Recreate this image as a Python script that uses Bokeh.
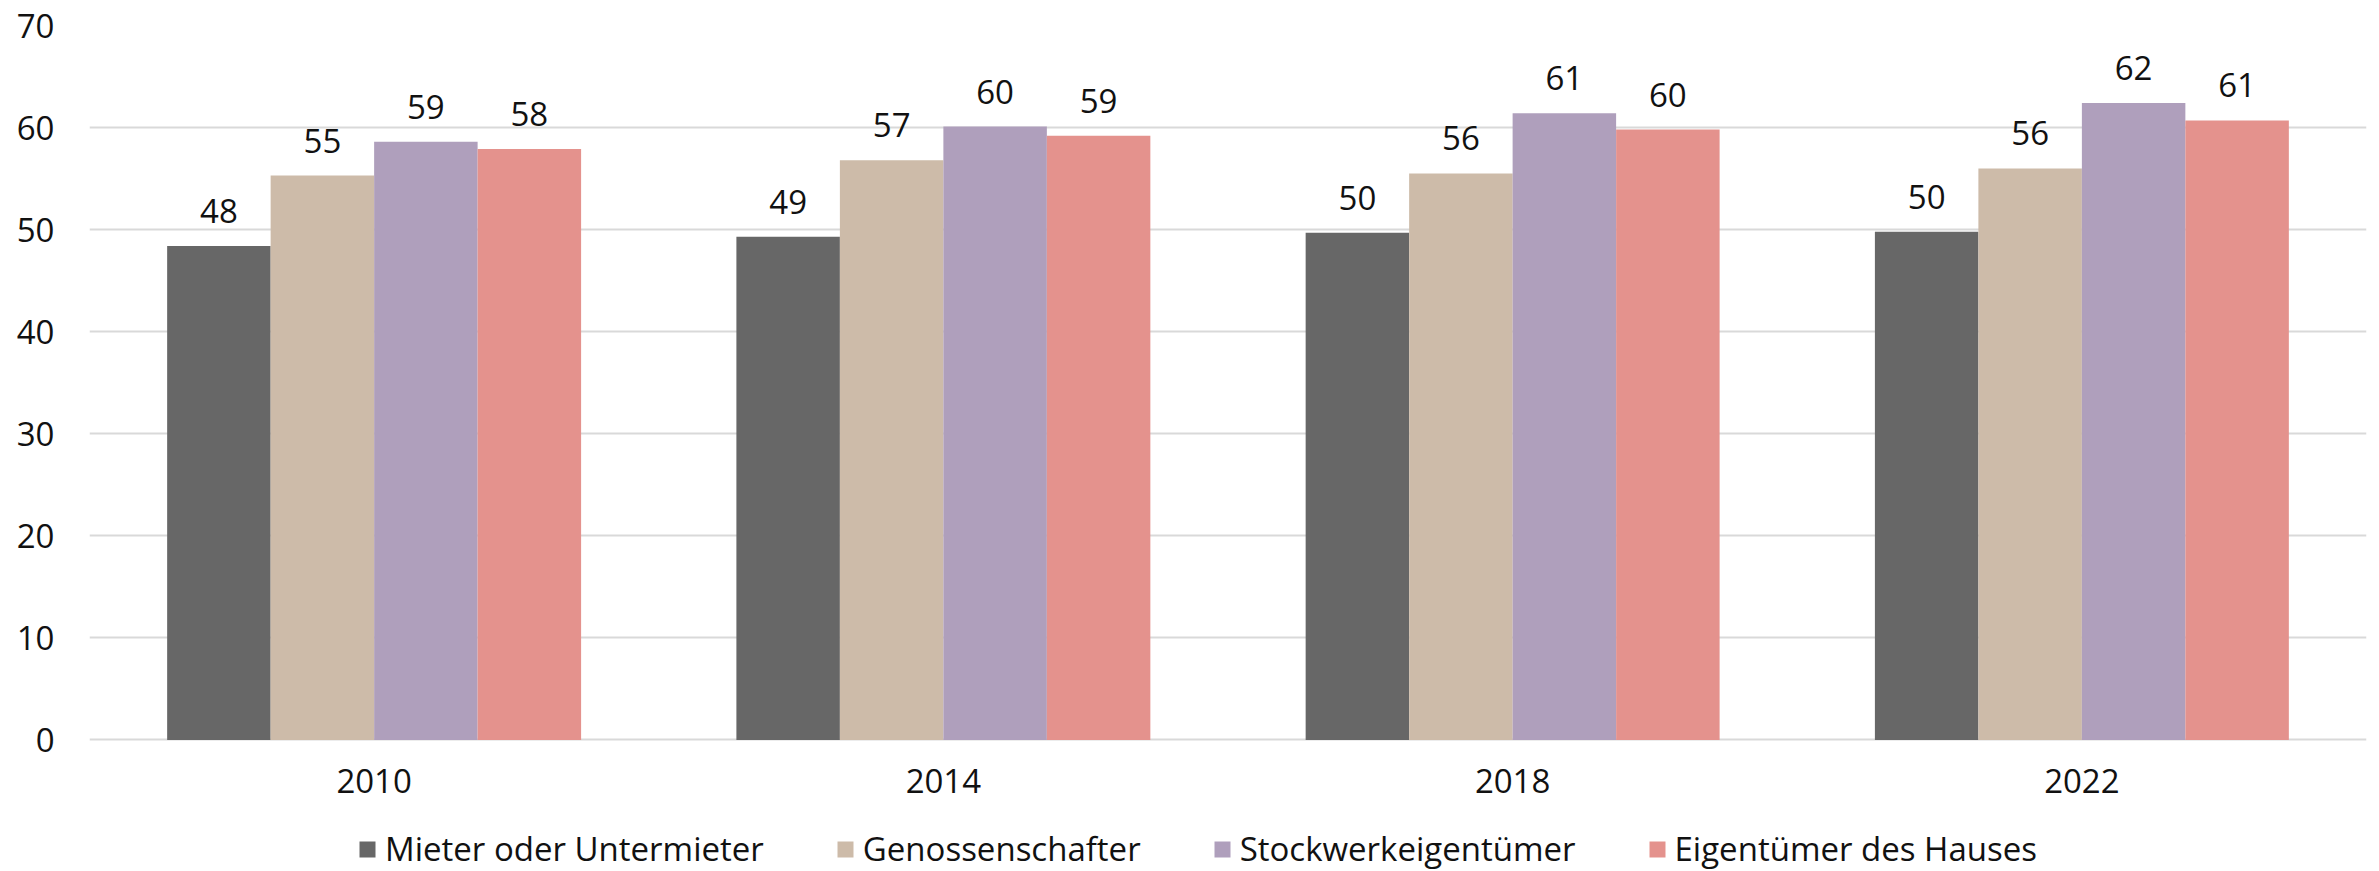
from bokeh.plotting import figure
from bokeh.models import ColumnDataSource, FactorRange, Legend, LegendItem, Range1d, FixedTicker
from bokeh.transform import dodge
from bokeh.core.properties import value
from bokeh.embed import file_html
from bokeh.resources import INLINE

years = ["2010", "2014", "2018", "2022"]
series_names = ["Mieter oder Untermieter", "Genossenschafter", "Stockwerkeigentümer", "Eigentümer des Hauses"]
mieter = [48.4, 49.3, 49.7, 49.8]
genossenschafter = [55.3, 56.8, 55.5, 56.0]
stockwerkeigentuemer = [58.6, 60.1, 61.4, 62.4]
eigentuemer_haus = [57.9, 59.2, 59.8, 60.7]
colors = ["#676767", "#cdbba9", "#af9fbc", "#e4928d"]
y_ticks = [0, 10, 20, 30, 40, 50, 60, 70]

FONT = "Open Sans"
FS = "33px"
TXT = "#111111"

# frame spans from the top gridline to the bottom of the picture; the band
# below zero holds the category labels and the legend
p = figure(width=2379, height=871, x_range=FactorRange(*years, range_padding=0),
           y_range=Range1d(-12.89, 70), output_backend="svg", toolbar_location=None,
           min_border_left=89, min_border_right=13, min_border_top=25, min_border_bottom=0)
p.outline_line_color = None
p.xgrid.grid_line_color = None
p.ygrid.grid_line_color = "#d9d9d9"
p.ygrid.grid_line_width = 2
p.yaxis.ticker = FixedTicker(ticks=y_ticks)
p.xaxis.fixed_location = 0

for ax in (p.xaxis[0], p.yaxis[0]):
    ax.axis_line_color = None
    ax.major_tick_line_color = None
    ax.minor_tick_line_color = None
    ax.major_tick_out = 0
    ax.major_tick_in = 0
    ax.minor_tick_out = 0
    ax.major_label_text_font = FONT
    ax.major_label_text_font_size = FS
    ax.major_label_text_color = TXT
p.yaxis.major_label_standoff = 35
p.xaxis.major_label_standoff = 29

all_series = [mieter, genossenschafter, stockwerkeigentuemer, eigentuemer_haus]
bw = 0.1818
offsets = [-1.5 * bw, -0.5 * bw, 0.5 * bw, 1.5 * bw]
items = []
for name, vals, col, off in zip(series_names, all_series, colors, offsets):
    src = ColumnDataSource(dict(x=years, y=vals, lab=[str(int(round(v))) for v in vals]))
    r = p.vbar(x=dodge("x", off, range=p.x_range), top="y", width=bw, bottom=0,
               source=src, fill_color=col, line_color=None)
    p.text(x=dodge("x", off, range=p.x_range), y="y", text="lab", source=src,
           text_align="center", text_baseline="alphabetic", y_offset=-35,
           text_font=value(FONT), text_font_size=FS, text_color=TXT)
    items.append(LegendItem(label=name, renderers=[r]))

legend = Legend(items=items, orientation="horizontal", location=(268, 0),
                glyph_width=20, glyph_height=20, label_standoff=8, spacing=71,
                padding=0, margin=0, border_line_color=None, background_fill_alpha=0,
                label_text_font=FONT, label_text_font_size=FS, label_text_color=TXT)
p.add_layout(legend, "center")

open("out.html", "w").write(file_html(p, INLINE))
